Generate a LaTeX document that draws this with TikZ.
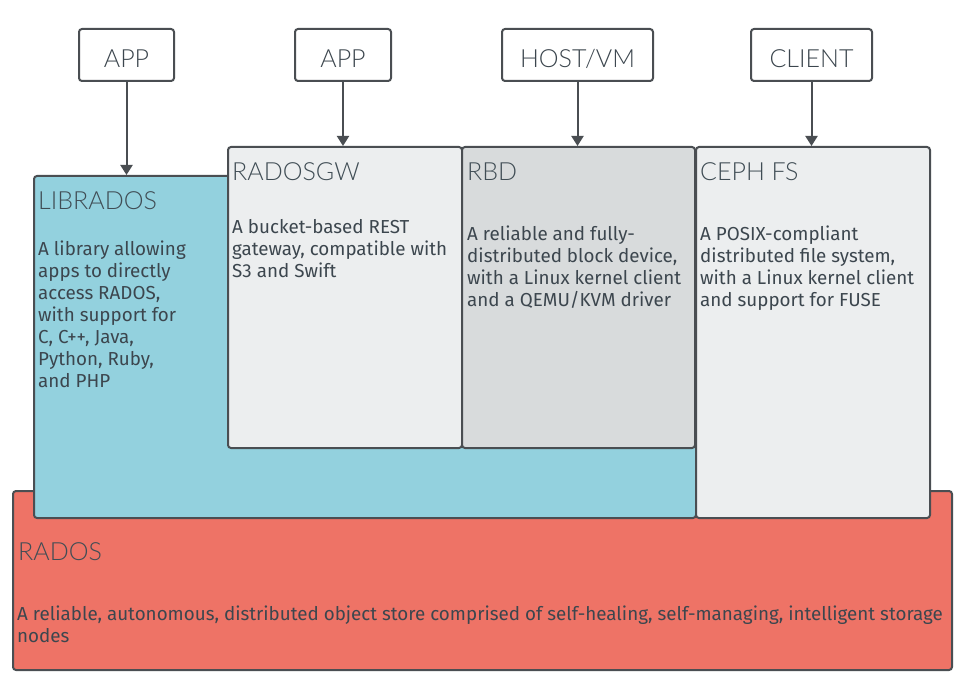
\documentclass[tikz,border=0pt]{standalone}
\usepackage{fontspec}
\setmainfont{Fira Sans}
\IfFontExistsTF{Lato Light}{\newfontfamily\ttlfont{Lato Light}}{\newfontfamily\ttlfont{PT Sans}}
\usetikzlibrary{arrows.meta}
\definecolor{bd}{HTML}{4A4E52}
\definecolor{txt}{HTML}{3C464E}
\definecolor{ttlc}{HTML}{404D55}
\definecolor{libblue}{HTML}{93D1DE}
\definecolor{lgray}{HTML}{ECEEEF}
\definecolor{mgray}{HTML}{D8DBDC}
\definecolor{radosred}{HTML}{EE7366}
\tikzset{
  bigbox/.style={draw=bd, line width=2pt, rounded corners=3pt, inner sep=0pt, anchor=north west},
  topbox/.style={draw=bd, line width=2pt, rounded corners=3pt, fill=white, inner sep=0pt,
    minimum height=52pt, text height=26pt, text depth=0pt, text=txt, font=\ttlfont\fontsize{25}{28}\selectfont},
  ttl/.style={anchor=base west, inner sep=0pt, text=ttlc, font=\ttlfont\fontsize{25}{28}\selectfont},
  desc/.style={anchor=north west, inner sep=0pt, align=left, text=txt, font=\fontsize{18.8}{22}\selectfont},
  arr/.style={draw=bd, line width=2pt, -{Triangle[width=12pt,length=10pt]}}
}
\begin{document}
\begin{tikzpicture}[x=1pt,y=-1pt]
\useasboundingbox (0,0) rectangle (960,679);
% layers
\node[bigbox, fill=radosred, minimum width=939pt, minimum height=179pt] (rados) at (12,490) {};
\node[bigbox, fill=libblue, minimum width=662pt, minimum height=342pt] (librados) at (33,175) {};
\node[bigbox, fill=lgray, minimum width=234pt, minimum height=301pt] (rgw) at (227,146) {};
\node[bigbox, fill=mgray, minimum width=233pt, minimum height=301pt] (rbd) at (461,146) {};
\node[bigbox, fill=lgray, minimum width=234pt, minimum height=371pt] (cephfs) at (695,146) {};
% titles
\node[ttl] (tlib) at (38,209) {LIBRADOS};
\node[ttl] (trgw) at (232,180) {RADOSGW};
\node[ttl] (trbd) at (467,180) {RBD};
\node[ttl] (tfs) at (700,180) {CEPH FS};
\node[ttl] (trados) at (18,560) {RADOS};
% descriptions
\node[desc] (dlib) at (38,239.6) {\strut A library allowing\\apps to directly\\access RADOS,\\with support for\\C, C++, Java,\\Python, Ruby,\\and PHP};
\node[desc] (drgw) at (232,217.6) {\strut A bucket-based REST\\gateway, compatible with\\S3 and Swift};
\node[desc] (drbd) at (467,224.6) {\strut A reliable and fully-\\distributed block device,\\with a Linux kernel client\\and a QEMU/KVM driver};
\node[desc] (dfs) at (700,224.6) {\strut A POSIX-compliant\\distributed file system,\\with a Linux kernel client\\and support for FUSE};
\node[desc] (drados) at (17,604.6) {\strut A reliable, autonomous, distributed object store comprised of self-healing, self-managing, intelligent storage\\nodes};
% top boxes
\node[topbox, minimum width=95pt] (app1) at (126.5,55) {APP};
\node[topbox, minimum width=96pt] (app2) at (343,55) {APP};
\node[topbox, minimum width=151pt] (host) at (577.5,55) {HOST/VM};
\node[topbox, minimum width=121pt] (client) at (811.5,55) {CLIENT};
% arrows
\draw[arr] (app1.south) -- (app1.south |- librados.north);
\draw[arr] (app2.south) -- (app2.south |- rgw.north);
\draw[arr] (host.south) -- (host.south |- rbd.north);
\draw[arr] (client.south) -- (client.south |- cephfs.north);
\end{tikzpicture}
\end{document}
